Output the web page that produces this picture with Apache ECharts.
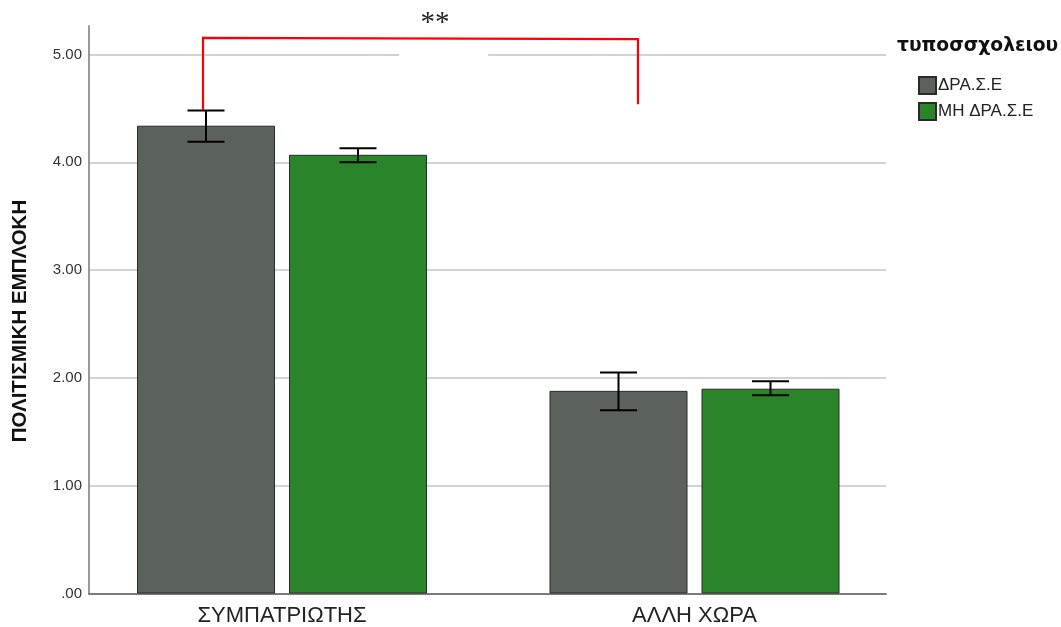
<!DOCTYPE html>
<html>
<head>
<meta charset="utf-8">
<script src="https://cdn.jsdelivr.net/npm/echarts@6/dist/echarts.min.js"></script>
<style>html,body{margin:0;padding:0;background:#fff;}#c{width:1061px;height:627px;}</style>
</head>
<body>
<div id="c"></div>
<script>
// ---- data ----
const categories = ['ΣΥΜΠΑΤΡΙΩΤΗΣ', 'ΑΛΛΗ ΧΩΡΑ'];
const seriesNames = ['ΔΡΑ.Σ.Ε', 'ΜΗ ΔΡΑ.Σ.Ε'];
const meanDrase = [4.34, 1.88];
const meanMh = [4.07, 1.90];
const lowDrase = [4.19, 1.70];
const highDrase = [4.48, 2.05];
const lowMh = [4.00, 1.84];
const highMh = [4.13, 1.97];
const yMin = 0, yMax = 5.265, yInterval = 1;
const yTitle = 'ΠΟΛΙΤΙΣΜΙΚΗ ΕΜΠΛΟΚΗ';
const legendTitle = 'τυποσσχολειου';
const sigLabel = '**';
const bracketLeftBottom = 4.485, bracketTopLeft = 5.155, bracketTopRight = 5.143, bracketRightBottom = 4.54;

// ---- style constants ----
const barW = 138, barGapPx = 14;
const off = (barW + barGapPx) / 2;
const greyC = '#5b625d', greenC = '#2a852a';

const chart = echarts.init(document.getElementById('c'), null, {renderer: 'canvas'});

function errItem(offset) {
  return function (params, api) {
    const cx = api.coord([api.value(0), 0])[0] + offset;
    const yL = api.coord([api.value(0), api.value(1)])[1];
    const yH = api.coord([api.value(0), api.value(2)])[1];
    const hw = 18.5;
    const st = {stroke: '#000', lineWidth: 2};
    return {type: 'group', children: [
      {type: 'line', shape: {x1: cx, y1: yH, x2: cx, y2: yL}, style: st},
      {type: 'line', shape: {x1: cx - hw, y1: yH, x2: cx + hw, y2: yH}, style: st},
      {type: 'line', shape: {x1: cx - hw, y1: yL, x2: cx + hw, y2: yL}, style: st}
    ]};
  };
}

const option = {
  animation: false,
  backgroundColor: '#fff',
  grid: [
    {left: 89, right: 175, top: 26, bottom: 33.5},
    {left: 75.75, right: 160.25, top: 26, bottom: 33.5}
  ],
  xAxis: [
    {type: 'category', gridIndex: 0, data: categories,
     axisLine: {lineStyle: {color: '#7a7a7a', width: 2}},
     axisTick: {show: false}, axisLabel: {show: false}, splitLine: {show: false}},
    {type: 'category', gridIndex: 1, data: categories,
     axisLine: {show: false}, axisTick: {show: false},
     axisLabel: {fontFamily: '"Liberation Sans Narrow", "Liberation Sans", Arial, sans-serif', fontSize: 22, color: '#222', margin: 11}}
  ],
  yAxis: [
    {type: 'value', gridIndex: 0, min: yMin, max: yMax, interval: yInterval,
     axisLine: {show: true, lineStyle: {color: '#999', width: 2}},
     axisTick: {show: false},
     axisLabel: {showMaxLabel: false, fontFamily: '"Liberation Sans", Arial, sans-serif', fontSize: 15, color: '#333', margin: 7,
       formatter: v => (v === 0 ? '.00' : (Math.abs(v - Math.round(v)) < 1e-9 ? v.toFixed(2) : ''))},
     splitLine: {show: true, showMaxLine: false, showMinLine: false, lineStyle: {color: '#d2d2d2', width: 2}}},
    {type: 'value', gridIndex: 1, min: yMin, max: yMax, interval: yInterval,
     axisLine: {show: false}, axisTick: {show: false}, axisLabel: {show: false}, splitLine: {show: false}}
  ],
  legend: {
    orient: 'vertical', left: 913, top: 71, itemWidth: 17, itemHeight: 17, itemGap: 7,
    icon: 'rect', data: seriesNames,
    textStyle: {fontFamily: '"Liberation Sans", Arial, sans-serif', fontSize: 17, color: '#222', padding: [0, 0, 0, -3]}
  },
  series: [
    {name: seriesNames[0], type: 'bar', xAxisIndex: 1, yAxisIndex: 1, data: meanDrase,
     barWidth: barW, barGap: (barGapPx / barW * 100) + '%',
     itemStyle: {color: greyC, borderColor: '#2a2a2a', borderWidth: 1}},
    {name: seriesNames[1], type: 'bar', xAxisIndex: 1, yAxisIndex: 1, data: meanMh,
     barWidth: barW,
     itemStyle: {color: greenC, borderColor: '#2a2a2a', borderWidth: 1}},
    {type: 'custom', xAxisIndex: 1, yAxisIndex: 1, z: 5, silent: true,
     data: categories.map((c, i) => [i, lowDrase[i], highDrase[i]]), renderItem: errItem(-off)},
    {type: 'custom', xAxisIndex: 1, yAxisIndex: 1, z: 5, silent: true,
     data: categories.map((c, i) => [i, lowMh[i], highMh[i]]), renderItem: errItem(off)},
    {type: 'custom', xAxisIndex: 1, yAxisIndex: 1, z: 6, silent: true,
     data: [[bracketLeftBottom, bracketTopLeft, bracketTopRight, bracketRightBottom]],
     renderItem: function (params, api) {
       const xl = api.coord([0, 0])[0] - off - 3;
       const xr = api.coord([1, 0])[0] - 56.5;
       const y0 = api.coord([0, api.value(0)])[1];
       const y1 = api.coord([0, api.value(1)])[1];
       const y2 = api.coord([0, api.value(2)])[1];
       const y3 = api.coord([0, api.value(3)])[1];
       const y5 = api.coord([0, 5])[1];
       return {type: 'group', children: [
         {type: 'rect', shape: {x: 399, y: y5 - 6, width: 89, height: 12}, style: {fill: '#fff'}},
         {type: 'polyline', shape: {points: [[xl, y0], [xl, y1], [xr, y2], [xr, y3]]},
          style: {stroke: '#ff0000', lineWidth: 2.2, fill: null}}
       ]};
     }}
  ],
  graphic: [
    {type: 'text', left: 897, top: 37, style: {text: legendTitle, fontFamily: '"DejaVu Sans", sans-serif', fontWeight: 'bold', fontSize: 18.7, fill: '#111'}},
    {type: 'text', x: 435, y: 38, style: {text: sigLabel, fontFamily: '"Liberation Serif", "Times New Roman", serif', fontSize: 29, fill: '#222', align: 'center', verticalAlign: 'bottom'}},
    {type: 'text', x: 20, y: 321, rotation: Math.PI / 2,
     style: {text: yTitle, fontFamily: '"Liberation Sans", Arial, sans-serif', fontWeight: 'bold', fontSize: 20.5, fill: '#111', align: 'center', verticalAlign: 'middle'}}
  ]
};
chart.setOption(option);
</script>
</body>
</html>
